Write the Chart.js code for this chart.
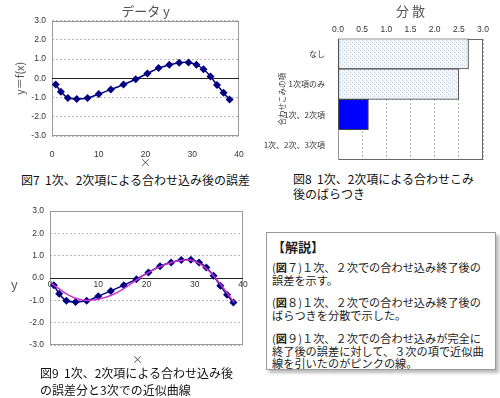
<!DOCTYPE html>
<html lang="ja">
<head>
<meta charset="utf-8">
<script src="https://cdn.jsdelivr.net/npm/chart.js@4.4.1/dist/chart.umd.min.js"></script>
<style>
  html, body { margin: 0; padding: 0; background: #fff; }
  body { width: 500px; height: 398px; position: relative; overflow: hidden;
         font-family: "Noto Sans CJK JP", "Noto Sans", sans-serif; color: #111; }
  .pane { position: absolute; }
  canvas { display: block; }
  .cap { position: absolute; font-size: 12px; line-height: 17px; white-space: nowrap; }
  .lbl { position: absolute; font-size: 11px; color: #555; }
  .note { position: absolute; left: 266px; top: 232px; width: 230px; height: 138px;
          border: 1px solid #999; box-shadow: 3px 3px 3px #bbb; background: #fff; box-sizing: border-box;
          padding: 5px 0 0 5px; font-size: 11.2px; line-height: 12.7px; color: #222; white-space: nowrap; }
  .note h4 { margin: 0 0 5px 0; font-size: 13px; line-height: 18px; font-weight: bold; }
  .note p { margin: 0 0 10px 0; }
</style>
</head>
<body>
<div class="pane" style="left:0;top:0"><canvas id="c7" width="250" height="170"></canvas></div>
<div class="pane" style="left:250px;top:0"><canvas id="c8" width="250" height="170"></canvas></div>
<div class="pane" style="left:0;top:200px"><canvas id="c9" width="250" height="170"></canvas></div>

<div class="cap" style="left:21px;top:171px">図7&nbsp;&nbsp;1次、2次項による合わせ込み後の誤差</div>
<div class="cap" style="left:293px;top:171px;line-height:15px">図8&nbsp;&nbsp;1次、2次項による合わせこみ<br>後のばらつき</div>
<div class="cap" style="left:40px;top:364px">図9&nbsp;&nbsp;1次、2次項による合わせ込み後<br>の誤差分と3次での近似曲線</div>
<div class="lbl" style="left:11px;top:274px;font-size:13px">y</div>
<div class="lbl" style="left:132px;top:351px">×</div>

<div class="note">
  <h4>【解説】</h4>
  <p>(<b>図</b>７)１次、２次での合わせ込み終了後の<br>誤差を示す。</p>
  <p>(<b>図</b>８)１次、２次での合わせ込み終了後の<br>ばらつきを分散で示した。</p>
  <p>(<b>図</b>９)１次、２次での合わせ込みが完全に<br>終了後の誤差に対して、３次の項で近似曲<br>線を引いたのがピンクの線。</p>
</div>

<script>
// data: error after 1st/2nd order fit (fig 7 and fig 9)
const errX = [0.8, 1.9, 3.4, 5.3, 7.6, 10.0, 12.6, 15.3, 17.9, 20.4, 22.8, 25.1, 27.2, 29.2, 30.9, 32.4, 33.9, 35.3, 36.7, 38.0];
const errY = [-0.32, -0.70, -1.02, -1.07, -1.02, -0.82, -0.58, -0.32, -0.05, 0.25, 0.53, 0.70, 0.81, 0.82, 0.70, 0.47, 0.10, -0.35, -0.75, -1.10];

// 3rd order approximation curve (pink, fig 9)
const fitX = [0.3, 2.0, 3.5, 5.0, 6.5, 8.0, 10.0, 12.6, 15.1, 17.5, 20.0, 22.7, 25.5, 27.6, 29.3, 31.0, 32.8, 34.5, 36.3, 38.2];
const fitY = [-0.25, -0.5, -0.72, -0.88, -0.97, -1.0, -0.95, -0.78, -0.5, -0.15, 0.2, 0.5, 0.72, 0.8, 0.8, 0.65, 0.35, -0.05, -0.55, -1.1];

// variance (fig 8)
const varLabels = ['なし', '1次項のみ', '1次、2次項', '1次、2次、3次項'];
const varValues = [2.7, 2.5, 0.63, 0];

const yTickMin = -3, yTickMax = 3;
const xTickMin = 0, xTickMax = 40;

const JP = '"Noto Sans CJK JP", sans-serif';
const TICK = { family: '"Liberation Sans", sans-serif', size: 8.5 };

// plot frame + solid zero line
const frame = {
  id: 'frame',
  beforeDatasetsDraw(chart, args, opts) {
    const { ctx, chartArea: a, scales } = chart;
    ctx.save();
    ctx.lineWidth = 1;
    ctx.strokeStyle = opts.color || '#999';
    ctx.strokeRect(Math.round(a.left) + 0.5, Math.round(a.top) + 0.5,
                   Math.round(a.width) - 1, Math.round(a.height) - 1);
    if (opts.zero) {
      const y = Math.round(scales.y.getPixelForValue(0)) + 0.5;
      ctx.strokeStyle = '#222';
      ctx.beginPath();
      ctx.moveTo(a.left, y);
      ctx.lineTo(a.right, y);
      ctx.stroke();
    }
    ctx.restore();
  }
};

function pts(xs, ys) {
  return xs.map((x, i) => ({ x, y: ys[i] }));
}

const errSet = {
  data: pts(errX, errY),
  borderColor: '#000080',
  backgroundColor: '#000080',
  borderWidth: 1.5,
  pointStyle: 'rectRot',
  pointRadius: 4,
  pointBorderWidth: 0,
  tension: 0.35
};

function yScale(extra) {
  return Object.assign({
    min: yTickMin, max: yTickMax,
    ticks: { stepSize: 1, color: '#333', font: TICK, padding: 6, callback: v => v.toFixed(1) },
    grid: { color: '#b8b8b8', drawTicks: false },
    border: { display: false, dash: [2, 2] }
  }, extra);
}

// fig 7
new Chart(document.getElementById('c7'), {
  type: 'line',
  data: { datasets: [Object.assign({}, errSet)] },
  options: {
    responsive: false, animation: false,
    layout: { padding: { right: 11 } },
    plugins: {
      legend: { display: false }, tooltip: { enabled: false },
      title: { display: true, text: 'データ y', fullSize: false, color: '#555',
               font: { family: JP, size: 13, weight: 'normal' }, padding: { top: 3, bottom: 2 } },
      frame: { zero: true }
    },
    scales: {
      x: {
        type: 'linear', min: xTickMin, max: xTickMax,
        ticks: { stepSize: 10, color: '#333', font: TICK, padding: 6 },
        grid: { display: false }, border: { display: false },
        title: { display: true, text: '×', color: '#555', font: { family: JP, size: 11 }, padding: { top: 0, bottom: 1 } },
        afterFit(s) { s.height = 34; }
      },
      y: yScale({
        title: { display: true, text: 'y＝f(x)', color: '#555', font: { family: JP, size: 11 }, padding: { top: 13 } },
        afterFit(s) { s.width = 52; }
      })
    }
  },
  plugins: [frame]
});

// light hatched fill for the grey bars
function hatch() {
  const c = document.createElement('canvas');
  c.width = 4; c.height = 4;
  const g = c.getContext('2d');
  g.fillStyle = '#f1f4f9';
  g.fillRect(0, 0, 4, 4);
  g.fillStyle = '#cdd7e5';
  g.fillRect(0, 0, 1, 1);
  g.fillRect(2, 2, 1, 1);
  return g.createPattern(c, 'repeat');
}
const light = hatch();

// fig 8
new Chart(document.getElementById('c8'), {
  type: 'bar',
  data: {
    labels: varLabels,
    datasets: [{
      data: varValues,
      backgroundColor: [light, light, '#0000ff', light],
      borderColor: '#444',
      borderWidth: ctx => (ctx.raw ? 1 : 0),
      borderSkipped: false,
      barPercentage: 1,
      categoryPercentage: 1
    }]
  },
  options: {
    responsive: false, animation: false, indexAxis: 'y',
    layout: { padding: { right: 17, bottom: 10 } },
    plugins: {
      legend: { display: false }, tooltip: { enabled: false },
      title: { display: true, text: '分 散', fullSize: false, color: '#555',
               font: { family: JP, size: 13, weight: 'normal' }, padding: { top: 3, bottom: 2 } },
      frame: { color: '#666' }
    },
    scales: {
      x: {
        position: 'top', min: 0, max: 3,
        ticks: { stepSize: 0.5, color: '#333', font: TICK, padding: 4, callback: v => v.toFixed(1) },
        grid: { color: '#b8b8b8', drawTicks: false },
        border: { display: false, dash: [2, 2] },
        afterFit(s) { s.height = 18; }
      },
      y: {
        ticks: { color: '#333', font: { family: JP, size: 8 }, padding: 5 },
        grid: { display: false }, border: { display: false },
        title: { display: true, text: '合わせこみの項', color: '#333', font: { family: JP, size: 7.5 }, padding: 28 },
        afterFit(s) { s.width = 88; }
      }
    }
  },
  plugins: [frame]
});

// fig 9
new Chart(document.getElementById('c9'), {
  type: 'line',
  data: {
    datasets: [
      { data: pts(fitX, fitY), borderColor: '#cc33cc', borderWidth: 1.5, pointRadius: 0, tension: 0.4, order: 0 },
      Object.assign({ order: 1 }, errSet)
    ]
  },
  options: {
    responsive: false, animation: false,
    layout: { padding: { top: 11, right: 7, bottom: 25 } },
    plugins: { legend: { display: false }, tooltip: { enabled: false }, frame: { zero: true } },
    scales: {
      x: {
        type: 'linear', position: { y: 0 }, min: xTickMin, max: xTickMax,
        ticks: { stepSize: 10, color: '#333', font: TICK, padding: 2 },
        grid: { display: false, drawTicks: false }, border: { display: false }
      },
      y: yScale({ afterFit(s) { s.width = 50; } })
    }
  },
  plugins: [frame]
});
</script>
</body>
</html>
